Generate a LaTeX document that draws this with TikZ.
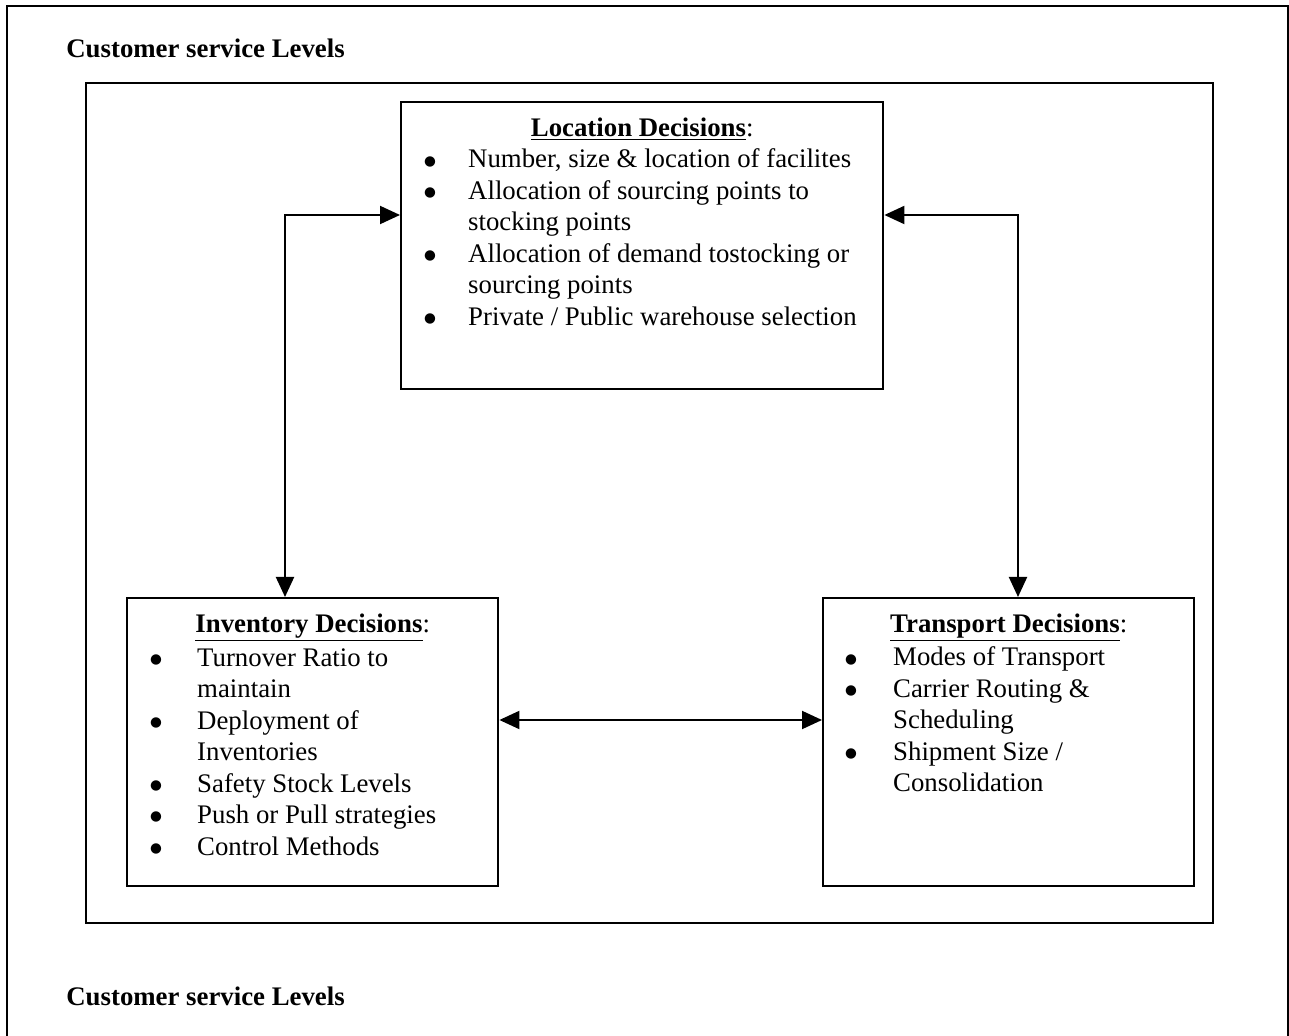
\documentclass[tikz,border=0pt]{standalone}
\usepackage{fontspec}
\setmainfont{Liberation Serif}
\newfontfamily\symfont{DejaVu Sans}
\usetikzlibrary{arrows.meta}

\newcommand{\bul}{\raisebox{1.3pt}{\symfont\fontsize{6.8}{7}\selectfont ●}}
% box of fixed size, content from the top
\newcommand{\decbody}[3]{\parbox[c][#2][t]{#1}{#3}}

\begin{document}
\begin{tikzpicture}[x=0.5pt, y=-0.5pt,
    every node/.style={font=\fontsize{13.4}{15.75}\selectfont, inner sep=0pt},
    decbox/.style={draw, line width=1.2pt, anchor=north west},
    link/.style={line width=1pt, {Triangle[length=10pt,width=9pt]}-{Triangle[length=10pt,width=9pt]}}]

  \useasboundingbox (0,0) rectangle (1289,1036);

  % Frames
  \draw[line width=1.2pt] (7,1036) -- (7,6) -- (1288,6) -- (1288,1036);
  \draw[line width=1.2pt] (86,83) rectangle (1213,923);

  \node[anchor=base west, font=\fontsize{13.4}{15.75}\selectfont\bfseries] (csltop) at (66,58) {Customer service Levels};
  \node[anchor=base west, font=\fontsize{13.4}{15.75}\selectfont\bfseries] (cslbot) at (66,1005) {Customer service Levels};

  % Decision boxes
  \node[decbox] (loc) at (400,101) {\decbody{241pt}{143.5pt}{%
    \centering\rule{0pt}{17pt}\underline{\textbf{Location Decisions}}:\par
    \raggedright
    \begin{tabular}[t]{@{\hspace{11.5pt}}p{22pt}@{}l@{}}
      \bul & Number, size \& location of facilites\\
      \bul & Allocation of sourcing points to\\
           & stocking points\\
      \bul & Allocation of demand tostocking or\\
           & sourcing points\\
      \bul & Private / Public warehouse selection
    \end{tabular}}};

  \node[decbox] (inv) at (126,597) {\decbody{185.5pt}{144pt}{%
    \centering\rule{0pt}{17pt}\underline{\textbf{Inventory Decisions}}:\par
    \raggedright
    \begin{tabular}[t]{@{\hspace{11.5pt}}p{23.5pt}@{}l@{}}
      \bul & Turnover Ratio to\\
           & maintain\\
      \bul & Deployment of\\
           & Inventories\\
      \bul & Safety Stock Levels\\
      \bul & Push or Pull strategies\\
      \bul & Control Methods
    \end{tabular}}};

  \node[decbox] (trans) at (822,597) {\decbody{185.5pt}{144pt}{%
    \centering\rule{0pt}{17pt}\underline{\textbf{Transport Decisions}}:\par
    \raggedright
    \begin{tabular}[t]{@{\hspace{11pt}}p{24pt}@{}l@{}}
      \bul & Modes of Transport\\
      \bul & Carrier Routing \&\\
           & Scheduling\\
      \bul & Shipment Size /\\
           & Consolidation
    \end{tabular}}};

  % Links
  \coordinate (lt) at (285,215);
  \coordinate (rt) at (1018,215);
  \coordinate (mid) at (660,720);

  \draw[link] (loc.west |- lt) -- (lt) -- (lt |- inv.north);
  \draw[link] (loc.east |- rt) -- (rt) -- (rt |- trans.north);
  \draw[link] (inv.east |- mid) -- (trans.west |- mid);
\end{tikzpicture}
\end{document}
